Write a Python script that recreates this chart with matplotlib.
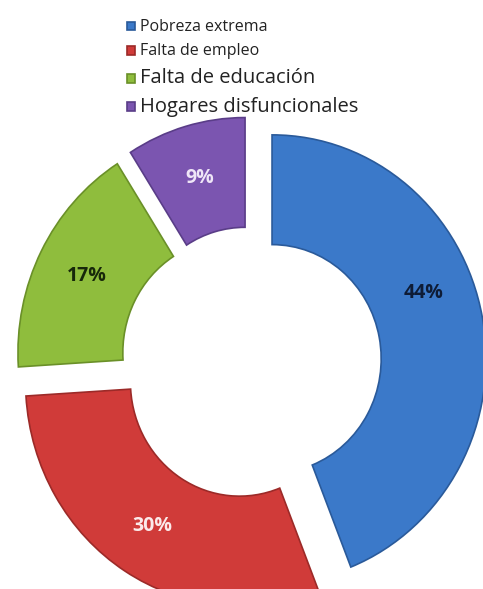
import matplotlib.pyplot as plt

# datos
categorias = ['Pobreza extrema', 'Falta de empleo', 'Falta de educación', 'Hogares disfuncionales']
valores = [44, 30, 17, 9]

colores = ['#3b79c9', '#d03b39', '#8fbd3d', '#7b55b0']
bordes = ['#2a5a9a', '#9c2a28', '#6a9028', '#5a3d88']
colores_txt = ['#0e1c36', '#fbeaea', '#17270a', '#efe6f7']
tam_leyenda = [11.5, 11.5, 14.5, 14.5]

plt.rcParams['font.family'] = ['Open Sans', 'DejaVu Sans']

fig = plt.figure(figsize=(4.83, 5.89), dpi=100)
ax = fig.add_axes([0, 0, 1, 1])

wedges, textos, pcts = ax.pie(valores, startangle=90, counterclock=False,
                              explode=[0.1] * len(valores), colors=colores,
                              autopct='%1.0f%%', pctdistance=0.76,
                              wedgeprops=dict(width=0.49, linewidth=1.2))

for w, b in zip(wedges, bordes):
    w.set_edgecolor(b)

for t, c in zip(pcts, colores_txt):
    t.set_color(c)
    t.set_fontsize(14)
    t.set_fontweight('bold')

# Excel pone la etiqueta del 44% un poco mas arriba
x, y = pcts[0].get_position()
pcts[0].set_position((x - 0.04, y + 0.15))

ax.set_aspect('auto')
ax.set_xlim(-1.173, 1.084)
ax.set_ylim(-1.009, 1.621)
ax.axis('off')

leg = fig.legend(wedges, categorias, loc='upper left', bbox_to_anchor=(0.262, 0.968),
                 frameon=False, borderpad=0, borderaxespad=0,
                 handlelength=0.6, handleheight=0.6, handletextpad=0.35,
                 labelspacing=0.62)
for t, s in zip(leg.get_texts(), tam_leyenda):
    t.set_fontsize(s)
    t.set_color('#222222')

fig.savefig('out.png', dpi=100)
